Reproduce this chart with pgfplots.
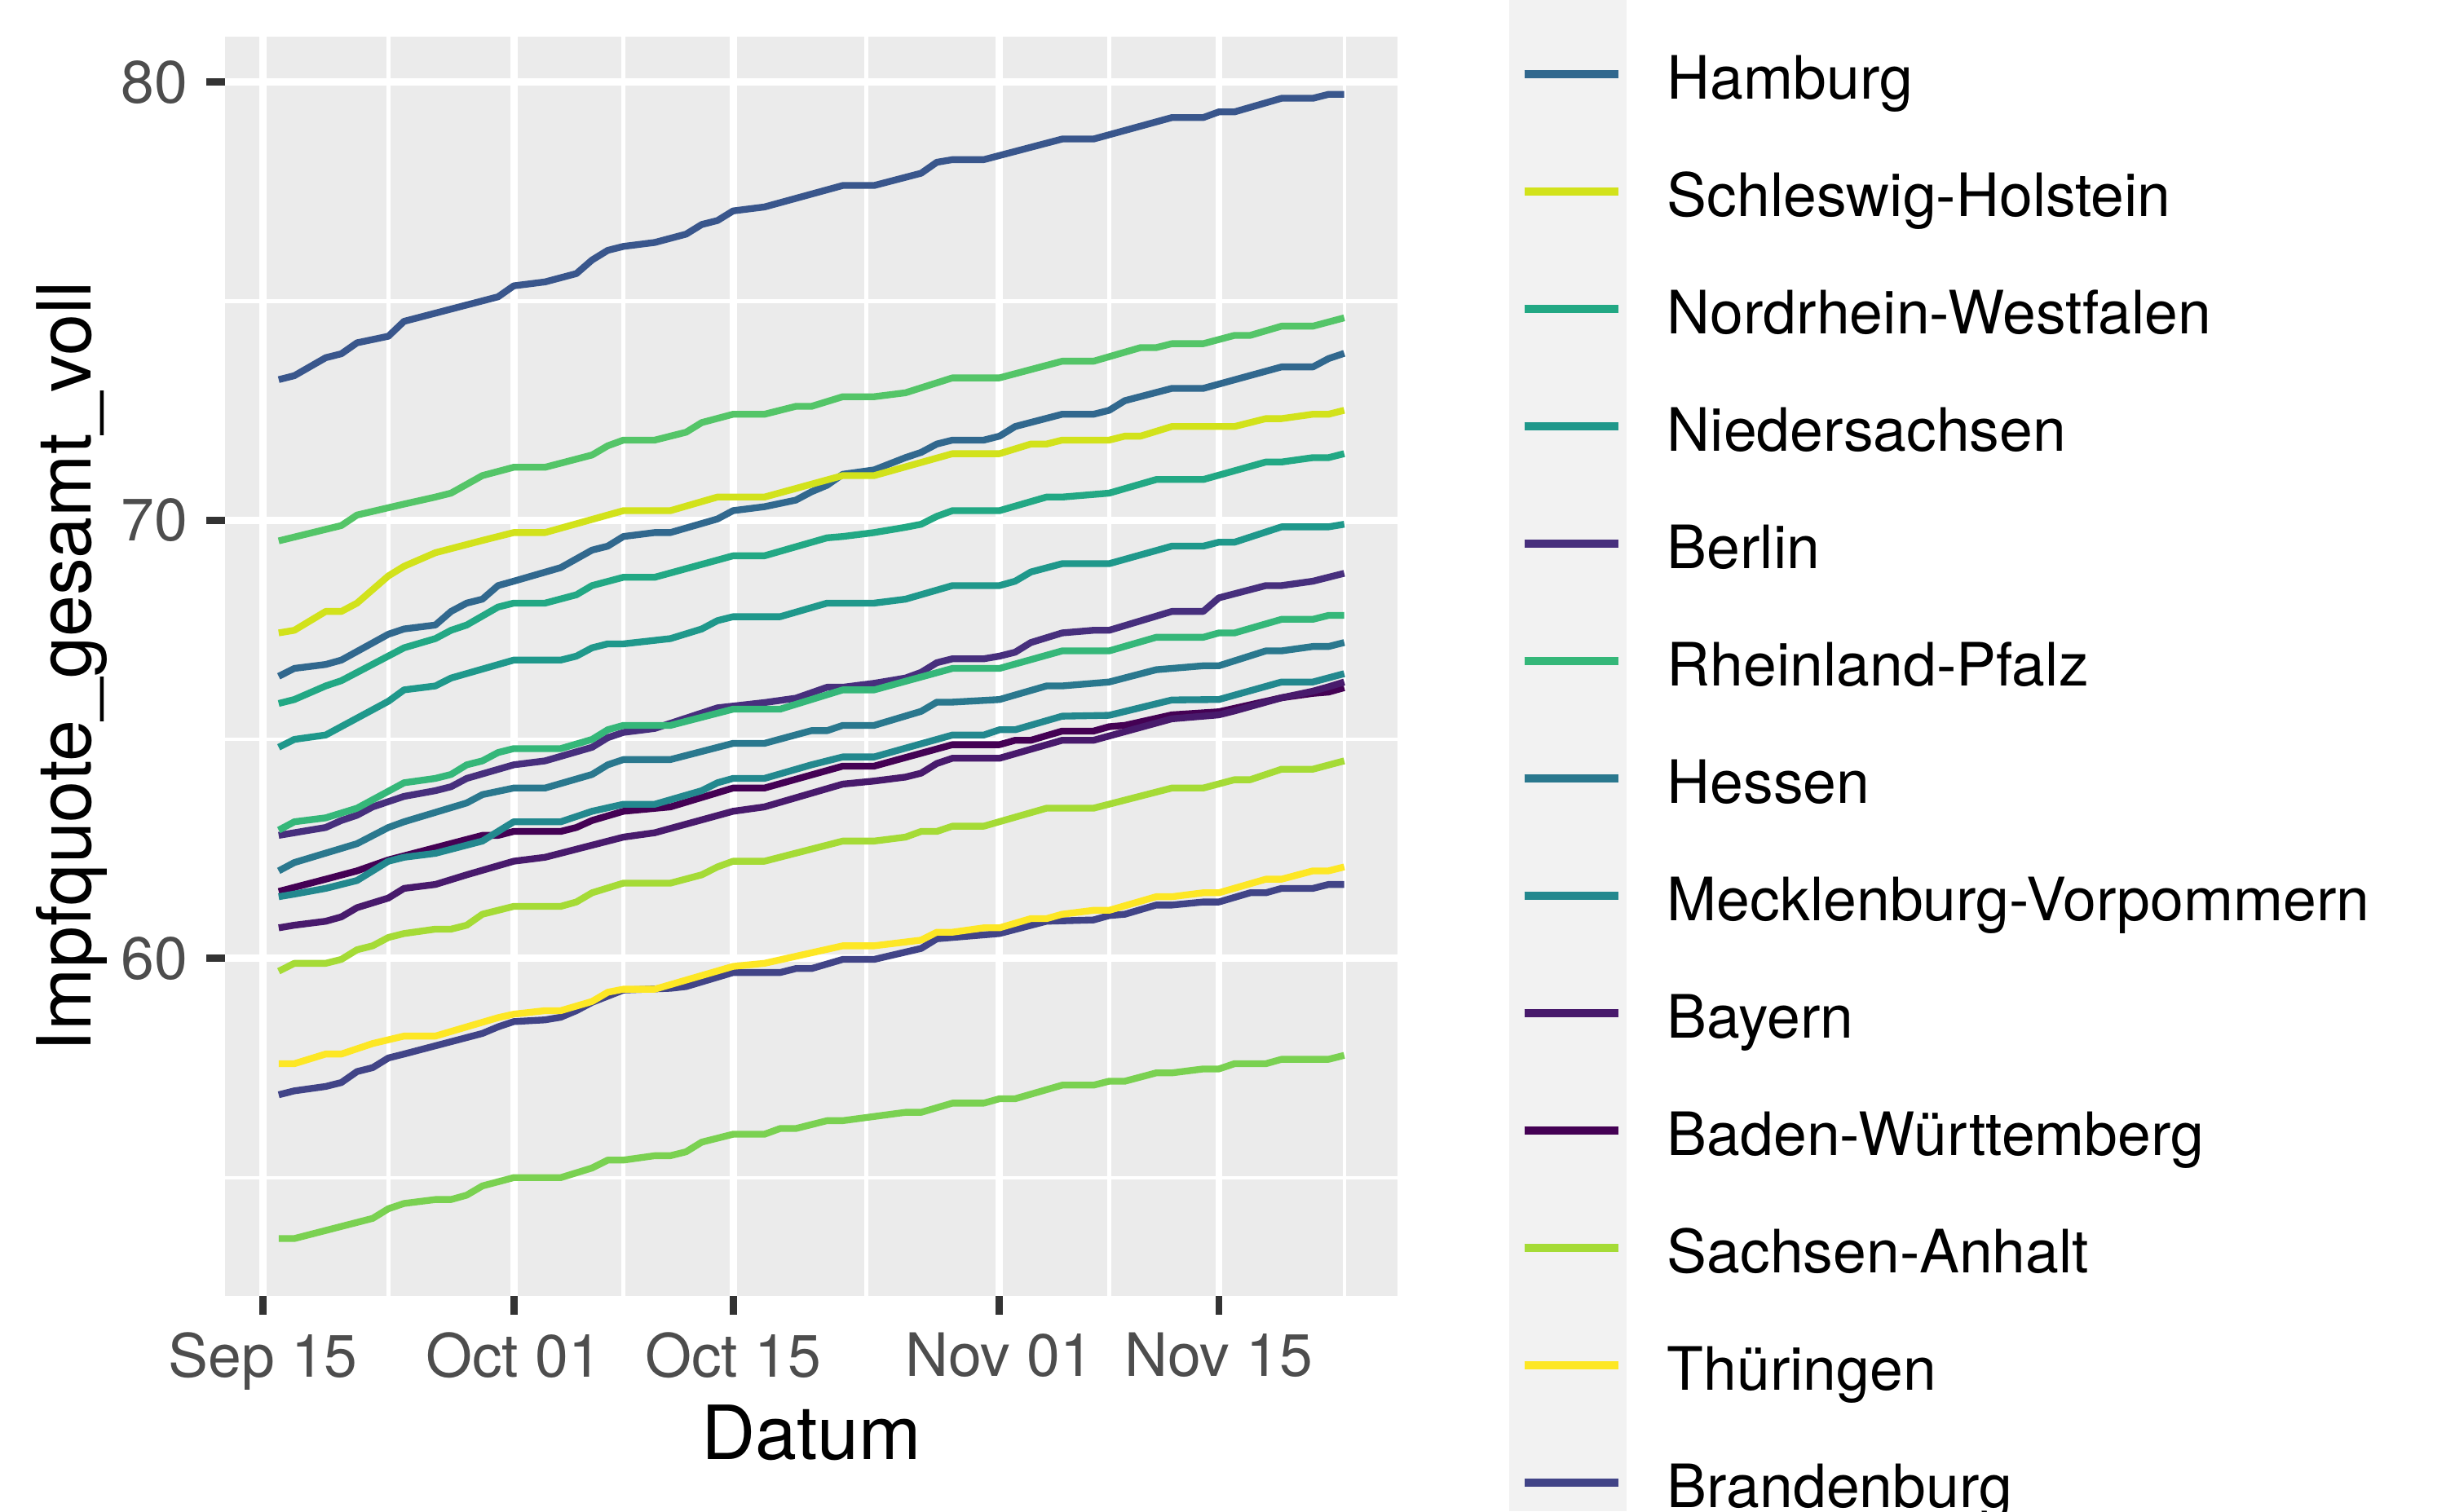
\documentclass[border=0pt]{standalone}
\usepackage{fontspec}
\setmainfont{TeX Gyre Heros}
\usepackage{pgfplots}
\pgfplotsset{compat=1.18}
\definecolor{panelbg}{HTML}{EBEBEB}
\definecolor{keybg}{HTML}{F2F2F2}
\definecolor{tickcol}{HTML}{333333}
\definecolor{ticktext}{HTML}{4D4D4D}
\definecolor{cBW}{HTML}{440154}
\definecolor{cBY}{HTML}{481A6C}
\definecolor{cBE}{HTML}{472F7D}
\definecolor{cBB}{HTML}{414487}
\definecolor{cHB}{HTML}{39568C}
\definecolor{cHH}{HTML}{31688E}
\definecolor{cHE}{HTML}{2A788E}
\definecolor{cMV}{HTML}{23888E}
\definecolor{cNI}{HTML}{1F988B}
\definecolor{cNW}{HTML}{22A884}
\definecolor{cRP}{HTML}{35B779}
\definecolor{cSL}{HTML}{54C568}
\definecolor{cSN}{HTML}{7AD151}
\definecolor{cST}{HTML}{A5DB36}
\definecolor{cSH}{HTML}{D2E21B}
\definecolor{cTH}{HTML}{FDE725}
\newcommand{\ticksize}{\fontsize{8.8bp}{10bp}\selectfont}
\newcommand{\titlesize}{\fontsize{11bp}{13bp}\selectfont}
\begin{document}
\begin{tikzpicture}
\path[use as bounding box] (0,0) rectangle (360bp,222.48bp);
\clip (0,0) rectangle (360bp,222.48bp);
% grey column of the legend keys
\fill[keybg] (222.12bp,0bp) rectangle (239.40bp,222.48bp);
\begin{axis}[
  at={(33.13bp,31.69bp)}, anchor=south west,
  scale only axis, width=172.60bp, height=185.35bp,
  xmin=-2.42, xmax=72.42, ymin=52.30, ymax=81.03,
  axis background/.style={fill=panelbg},
  axis line style={draw=none},
  xtick={0,16,30,47,61}, xticklabels={Sep 15,Oct 01,Oct 15,Nov 01,Nov 15},
  minor xtick={8,23,38.5,54,69},
  ytick={60,70,80}, yticklabels={60,70,80},
  minor ytick={55,65,75},
  grid=both,
  major grid style={draw=white, line width=1.07bp},
  minor grid style={draw=white, line width=0.53bp},
  tick pos=left, tick align=outside,
  major tick length=2.74bp, minor tick length=0pt,
  major tick style={draw=tickcol, line width=1.07bp},
  minor tick style={draw=none},
  xticklabel style={font=\ticksize, text=ticktext, inner sep=0pt, anchor=north},
  yticklabel style={font=\ticksize, text=ticktext, inner sep=0pt, anchor=east},
  xticklabel shift=2.46bp,
  yticklabel shift=2.59bp,
  xlabel={Datum}, ylabel={Impfquote\_gesamt\_voll},
  xlabel style={font=\titlesize, at={(axis description cs:0.5,-0.1300)}, anchor=base, inner sep=0pt},
  ylabel style={font=\titlesize, at={(axis description cs:-0.1143,0.5)}, anchor=base, inner sep=0pt},
  legend style={at={(1.10469,1.11027)}, anchor=north west, draw=none, fill=none,
    inner sep=0pt, outer sep=0pt, row sep=0pt, column sep=6.6bp, font=\ticksize,
    nodes={inner sep=0pt, outer sep=0pt, text height=12.33bp, text depth=4.95bp}},
  legend cell align=left,
  legend image code/.code={
    \draw[#1, line width=1.1bp] (0bp,0bp) -- (13.88bp,0bp);
  },
  every axis plot/.append style={line width=1.0bp, line join=round},
]
% Baden-Wuerttemberg
\addplot[forget plot, cBW] coordinates {(1,61.53)(4,61.81)(6,62.00)(8,62.25)(11,62.53)(14,62.81)(15,62.81)(16,62.90)(19,62.90)(20,62.99)(21,63.15)(23,63.36)(26,63.46)(30,63.89)(32,63.89)(37,64.39)(39,64.39)(44,64.88)(47,64.88)(48,64.98)(49,64.98)(51,65.19)(53,65.19)(54,65.29)(55,65.32)(58,65.56)(61,65.63)(65,65.95)(67,66.05)(68,66.08)(69,66.18)};
% Bayern
\addplot[forget plot, cBY] coordinates {(1,60.70)(2,60.76)(4,60.85)(5,60.95)(6,61.16)(8,61.38)(9,61.60)(11,61.69)(13,61.91)(16,62.22)(18,62.31)(23,62.77)(25,62.87)(30,63.36)(32,63.46)(37,63.98)(39,64.05)(41,64.14)(42,64.23)(43,64.45)(44,64.57)(47,64.57)(51,64.98)(53,64.98)(58,65.47)(61,65.56)(62,65.65)(65,65.95)(67,66.10)(68,66.20)(69,66.31)};
% Berlin
\addplot[forget plot, cBE] coordinates {(1,62.81)(2,62.87)(4,62.99)(5,63.15)(6,63.27)(7,63.46)(9,63.70)(11,63.83)(12,63.92)(13,64.11)(16,64.42)(18,64.51)(21,64.82)(22,65.04)(23,65.16)(25,65.25)(29,65.72)(32,65.84)(34,65.94)(36,66.19)(37,66.19)(39,66.28)(41,66.40)(42,66.53)(43,66.75)(44,66.84)(46,66.84)(47,66.90)(48,66.99)(49,67.21)(51,67.43)(53,67.49)(54,67.49)(58,67.92)(60,67.92)(61,68.23)(64,68.51)(65,68.51)(67,68.61)(69,68.79)};
% Brandenburg
\addplot[forget plot, cBB] coordinates {(1,56.89)(2,56.98)(4,57.08)(5,57.17)(6,57.42)(7,57.51)(8,57.73)(9,57.82)(14,58.29)(15,58.44)(16,58.56)(18,58.60)(19,58.66)(20,58.81)(21,59.00)(23,59.28)(26,59.32)(27,59.36)(30,59.68)(33,59.68)(34,59.77)(35,59.77)(37,59.98)(39,59.98)(42,60.23)(43,60.45)(44,60.48)(47,60.57)(50,60.85)(53,60.88)(54,60.98)(55,61.01)(57,61.22)(58,61.22)(60,61.29)(61,61.29)(63,61.50)(64,61.50)(65,61.60)(67,61.60)(68,61.69)(69,61.69)};
% Bremen
\addplot[forget plot, cHB] coordinates {(1,73.21)(2,73.30)(4,73.71)(5,73.80)(6,74.05)(8,74.20)(9,74.54)(15,75.10)(16,75.35)(18,75.44)(20,75.63)(21,75.94)(22,76.16)(23,76.25)(25,76.34)(27,76.53)(28,76.75)(29,76.84)(30,77.06)(32,77.15)(37,77.64)(39,77.64)(42,77.92)(43,78.17)(44,78.23)(46,78.23)(51,78.70)(53,78.70)(58,79.19)(60,79.19)(61,79.32)(62,79.32)(65,79.63)(67,79.63)(68,79.72)(69,79.72)};
% Hamburg
\addplot[forget plot, cHH] coordinates {(1,66.44)(2,66.62)(4,66.71)(5,66.81)(8,67.40)(9,67.52)(11,67.61)(12,67.92)(13,68.11)(14,68.20)(15,68.51)(16,68.61)(19,68.92)(21,69.32)(22,69.41)(23,69.63)(25,69.72)(26,69.72)(29,70.03)(30,70.22)(32,70.31)(34,70.46)(35,70.65)(36,70.80)(37,71.05)(39,71.15)(41,71.43)(42,71.55)(43,71.74)(44,71.83)(46,71.83)(47,71.92)(48,72.14)(51,72.42)(53,72.42)(54,72.51)(55,72.73)(58,73.01)(60,73.01)(65,73.50)(67,73.50)(68,73.69)(69,73.81)};
% Hessen
\addplot[forget plot, cHE] coordinates {(1,62.00)(2,62.19)(6,62.62)(8,62.99)(9,63.12)(13,63.55)(14,63.74)(16,63.89)(18,63.89)(21,64.20)(22,64.42)(23,64.54)(26,64.54)(30,64.91)(32,64.91)(35,65.20)(36,65.20)(37,65.32)(39,65.32)(42,65.64)(43,65.85)(44,65.85)(47,65.91)(50,66.22)(51,66.22)(54,66.31)(57,66.59)(58,66.62)(60,66.68)(61,66.68)(64,67.02)(65,67.02)(67,67.12)(68,67.12)(69,67.21)};
% Mecklenburg-Vorpommern
\addplot[forget plot, cMV] coordinates {(1,61.41)(2,61.47)(4,61.60)(6,61.78)(8,62.22)(9,62.31)(11,62.40)(14,62.68)(16,63.12)(19,63.12)(21,63.36)(23,63.52)(25,63.52)(28,63.83)(29,64.01)(30,64.11)(32,64.11)(35,64.42)(37,64.60)(39,64.60)(44,65.10)(46,65.10)(47,65.22)(48,65.22)(51,65.53)(54,65.55)(58,65.90)(61,65.91)(65,66.31)(67,66.31)(69,66.50)};
% Niedersachsen
\addplot[forget plot, cNI] coordinates {(1,64.82)(2,65.00)(4,65.10)(8,65.87)(9,66.13)(11,66.22)(12,66.40)(16,66.81)(19,66.81)(20,66.90)(21,67.09)(22,67.18)(23,67.18)(26,67.30)(28,67.52)(29,67.71)(30,67.80)(33,67.80)(36,68.11)(39,68.11)(41,68.20)(44,68.51)(47,68.51)(48,68.61)(49,68.82)(51,69.01)(54,69.01)(58,69.41)(60,69.41)(61,69.50)(62,69.50)(65,69.85)(68,69.85)(69,69.91)};
% Nordrhein-Westfalen
\addplot[forget plot, cNW] coordinates {(1,65.82)(2,65.91)(4,66.22)(5,66.34)(9,67.09)(11,67.30)(12,67.49)(13,67.61)(15,68.02)(16,68.11)(18,68.11)(20,68.30)(21,68.51)(23,68.70)(25,68.70)(30,69.19)(32,69.19)(36,69.60)(37,69.63)(39,69.72)(41,69.84)(42,69.91)(43,70.09)(44,70.22)(47,70.22)(50,70.53)(51,70.53)(54,70.62)(57,70.93)(60,70.93)(64,71.33)(65,71.33)(67,71.43)(68,71.43)(69,71.52)};
% Rheinland-Pfalz
\addplot[forget plot, cRP] coordinates {(1,62.93)(2,63.12)(4,63.21)(6,63.43)(9,64.01)(11,64.11)(12,64.20)(13,64.42)(14,64.51)(15,64.70)(16,64.79)(19,64.79)(21,65.00)(22,65.22)(23,65.32)(26,65.32)(30,65.69)(33,65.69)(37,66.13)(39,66.13)(44,66.62)(47,66.62)(51,67.02)(54,67.02)(57,67.33)(60,67.33)(61,67.43)(62,67.43)(65,67.74)(67,67.74)(68,67.83)(69,67.83)};
% Saarland
\addplot[forget plot, cSL] coordinates {(1,69.53)(5,69.88)(6,70.12)(9,70.37)(11,70.53)(12,70.62)(14,71.02)(16,71.21)(18,71.21)(21,71.49)(22,71.70)(23,71.83)(25,71.83)(27,72.01)(28,72.23)(30,72.42)(32,72.42)(34,72.60)(35,72.60)(37,72.82)(39,72.82)(41,72.91)(44,73.25)(47,73.25)(51,73.63)(53,73.63)(56,73.94)(57,73.94)(58,74.03)(60,74.03)(62,74.22)(63,74.22)(65,74.43)(67,74.43)(69,74.62)};
% Sachsen
\addplot[forget plot, cSN] coordinates {(1,53.61)(2,53.61)(7,54.07)(8,54.29)(9,54.41)(11,54.50)(12,54.50)(13,54.60)(14,54.81)(16,55.00)(19,55.00)(21,55.22)(22,55.40)(23,55.40)(25,55.50)(26,55.50)(27,55.59)(28,55.81)(30,55.99)(32,55.99)(33,56.12)(34,56.12)(36,56.30)(37,56.30)(41,56.49)(42,56.49)(44,56.70)(46,56.70)(47,56.80)(48,56.80)(51,57.11)(53,57.11)(54,57.20)(55,57.20)(57,57.39)(58,57.39)(60,57.48)(61,57.48)(62,57.60)(64,57.60)(65,57.70)(68,57.70)(69,57.79)};
% Sachsen-Anhalt
\addplot[forget plot, cST] coordinates {(1,59.71)(2,59.89)(4,59.89)(5,59.98)(6,60.20)(7,60.29)(8,60.48)(9,60.57)(11,60.67)(12,60.67)(13,60.76)(14,61.01)(16,61.19)(19,61.19)(20,61.29)(21,61.50)(23,61.72)(26,61.72)(28,61.91)(29,62.09)(30,62.22)(32,62.22)(37,62.68)(39,62.68)(41,62.77)(42,62.90)(43,62.90)(44,63.02)(46,63.02)(50,63.43)(53,63.43)(58,63.89)(60,63.89)(62,64.08)(63,64.08)(65,64.32)(67,64.32)(69,64.51)};
% Schleswig-Holstein
\addplot[forget plot, cSH] coordinates {(1,67.43)(2,67.49)(4,67.92)(5,67.92)(6,68.11)(8,68.73)(9,68.95)(11,69.26)(14,69.54)(16,69.72)(18,69.72)(23,70.22)(26,70.22)(29,70.53)(32,70.53)(37,71.02)(39,71.02)(44,71.52)(47,71.52)(49,71.74)(50,71.74)(51,71.83)(54,71.83)(55,71.92)(56,71.92)(58,72.14)(62,72.14)(64,72.32)(65,72.32)(67,72.42)(68,72.42)(69,72.51)};
% Thueringen
\addplot[forget plot, cTH] coordinates {(1,57.60)(2,57.60)(4,57.82)(5,57.82)(7,58.06)(9,58.23)(11,58.23)(15,58.65)(16,58.73)(18,58.81)(19,58.81)(21,59.02)(22,59.23)(23,59.30)(25,59.30)(30,59.82)(32,59.89)(37,60.29)(39,60.29)(42,60.42)(43,60.60)(44,60.60)(46,60.70)(47,60.70)(49,60.91)(50,60.91)(51,61.01)(53,61.10)(54,61.10)(57,61.41)(58,61.41)(60,61.50)(61,61.50)(64,61.81)(65,61.81)(67,62.00)(68,62.00)(69,62.09)};
% legend (order as in the reference)
\addlegendimage{cSN}\addlegendentry{Sachsen}
\addlegendimage{cHH}\addlegendentry{Hamburg}
\addlegendimage{cSH}\addlegendentry{Schleswig-Holstein}
\addlegendimage{cNW}\addlegendentry{Nordrhein-Westfalen}
\addlegendimage{cNI}\addlegendentry{Niedersachsen}
\addlegendimage{cBE}\addlegendentry{Berlin}
\addlegendimage{cRP}\addlegendentry{Rheinland-Pfalz}
\addlegendimage{cHE}\addlegendentry{Hessen}
\addlegendimage{cMV}\addlegendentry{Mecklenburg-Vorpommern}
\addlegendimage{cBY}\addlegendentry{Bayern}
\addlegendimage{cBW}\addlegendentry{Baden-Württemberg}
\addlegendimage{cST}\addlegendentry{Sachsen-Anhalt}
\addlegendimage{cTH}\addlegendentry{Thüringen}
\addlegendimage{cBB}\addlegendentry{Brandenburg}
\addlegendimage{cHB}\addlegendentry{Bremen}
\addlegendimage{cSL}\addlegendentry{Saarland}
\end{axis}
\end{tikzpicture}
\end{document}
